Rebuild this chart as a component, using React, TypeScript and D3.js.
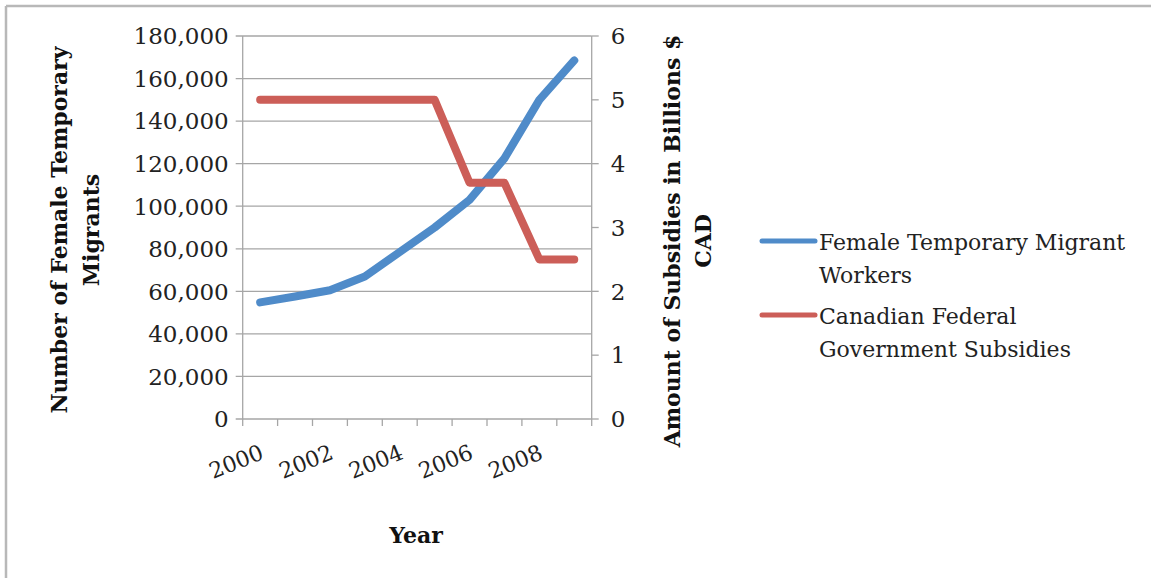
import React from "react";
import * as d3 from "d3";

const years = ["2000","2001","2002","2003","2004","2005","2006","2007","2008","2009"];
const migrants = [54800, 57600, 60500, 67000, 78500, 90000, 103000, 122500, 150000, 168500];
const subsidies = [5, 5, 5, 5, 5, 5, 3.7, 3.7, 2.5, 2.5];
const leftTicks = [0, 20000, 40000, 60000, 80000, 100000, 120000, 140000, 160000, 180000];
const rightTicks = [0, 1, 2, 3, 4, 5, 6];
const xLabelYears = ["2000","2002","2004","2006","2008"];
const seriesNames = [["Female Temporary Migrant", "Workers"], ["Canadian Federal", "Government Subsidies"]];
const colors = ["#4F8BC9", "#CC5E58"];

const W = 1151, H = 578;
const L = 242.7, R = 591.7, T = 36, B = 419;
const FONT = "'DejaVu Serif', 'Liberation Serif', serif";
const GRID = "#a6a6a6";

export default function App() {
  const x = d3.scaleBand<string>().domain(years).range([L, R]);
  const yL = d3.scaleLinear().domain([0, 180000]).range([B, T]);
  const yR = d3.scaleLinear().domain([0, 6]).range([B, T]);
  const cx = (d: string) => (x(d) as number) + x.bandwidth() / 2;
  const fmt = d3.format(",");
  const lineL = d3.line<number>().x((_, i) => cx(years[i])).y((v) => yL(v));
  const lineR = d3.line<number>().x((_, i) => cx(years[i])).y((v) => yR(v));
  const tickEdges = [...years.map((d) => x(d) as number), R];

  return (
    <svg width={W} height={H} style={{ position: "absolute", left: 0, top: 0 }} fontFamily={FONT}>
      <rect x={0} y={0} width={W} height={H} fill="#fff" />
      <line x1={6} y1={6} x2={W} y2={6} stroke="#b8b8b8" strokeWidth={2.5} />
      <line x1={6} y1={6} x2={6} y2={H} stroke="#b8b8b8" strokeWidth={2.5} />
      {leftTicks.map((t) => (
        <g key={t}>
          <line x1={L - 7} x2={R} y1={yL(t)} y2={yL(t)} stroke={GRID} strokeWidth={1.3} />
          <text x={L - 14} y={yL(t)} dy="0.36em" textAnchor="end" fontSize={23} fill="#222">{fmt(t)}</text>
        </g>
      ))}
      <line x1={L} x2={L} y1={T} y2={B} stroke={GRID} strokeWidth={1.3} />
      <line x1={R} x2={R} y1={T} y2={B} stroke={GRID} strokeWidth={1.3} />
      {rightTicks.map((t) => (
        <g key={t}>
          <line x1={R} x2={R + 7} y1={yR(t)} y2={yR(t)} stroke={GRID} strokeWidth={1.3} />
          <text x={R + 19} y={yR(t)} dy="0.36em" textAnchor="start" fontSize={23} fill="#222">{t}</text>
        </g>
      ))}
      {tickEdges.map((e, i) => (
        <line key={i} x1={e} x2={e} y1={B} y2={B + 7} stroke={GRID} strokeWidth={1.3} />
      ))}
      {xLabelYears.map((d) => (
        <text key={d} transform={`translate(${cx(d) + 2},${B + 32}) rotate(-22)`} textAnchor="end" dy="0.35em" fontSize={22} fill="#222">{d}</text>
      ))}
      <text x={416} y={543} textAnchor="middle" fontSize={22} fontWeight="bold" fill="#111">Year</text>
      <text transform={`translate(67,230) rotate(-90)`} textAnchor="middle" fontSize={22} fontWeight="bold" fill="#111">Number of Female Temporary</text>
      <text transform={`translate(99,230) rotate(-90)`} textAnchor="middle" fontSize={22} fontWeight="bold" fill="#111">Migrants</text>
      <text transform={`translate(680,241) rotate(-90)`} textAnchor="middle" fontSize={22} fontWeight="bold" fill="#111">Amount of Subsidies in Billions $</text>
      <text transform={`translate(711,241) rotate(-90)`} textAnchor="middle" fontSize={22} fontWeight="bold" fill="#111">CAD</text>
      <path d={lineL(migrants) as string} fill="none" stroke={colors[0]} strokeWidth={8} strokeLinecap="round" strokeLinejoin="round" />
      <path d={lineR(subsidies) as string} fill="none" stroke={colors[1]} strokeWidth={8} strokeLinecap="round" strokeLinejoin="round" />
      {seriesNames.map((lines, i) => {
        const y0 = 241 + i * 74;
        return (
          <g key={i}>
            <line x1={762} x2={815} y1={y0} y2={y0} stroke={colors[i]} strokeWidth={5} strokeLinecap="round" />
            {lines.map((s, j) => (
              <text key={j} x={819} y={y0 + 9 + j * 33} fontSize={22} fill="#222">{s}</text>
            ))}
          </g>
        );
      })}
    </svg>
  );
}
